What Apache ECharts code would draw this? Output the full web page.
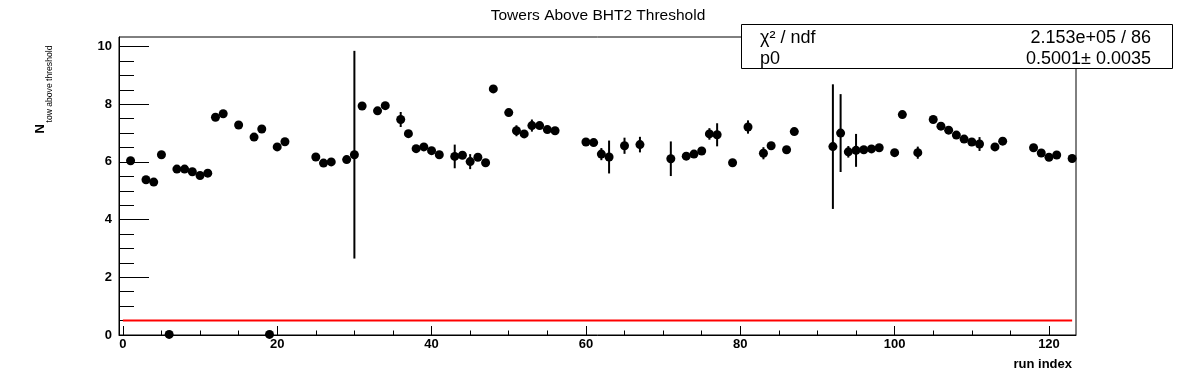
<!DOCTYPE html>
<html><head><meta charset="utf-8">
<script src="https://cdn.jsdelivr.net/npm/echarts@6/dist/echarts.min.js"></script>
<style>html,body{margin:0;padding:0;background:#fff}#c{width:1196px;height:372px}</style>
</head><body><div id="c"></div>
<script>
const runIndex = [1,3,4,5,6,7,8,9,10,11,12,13,15,17,18,19,20,21,25,26,27,29,30,31,33,34,36,37,38,39,40,41,43,44,45,46,47,48,50,51,52,53,54,55,56,60,61,62,63,65,67,71,73,74,75,76,77,79,81,83,84,86,87,92,93,94,95,96,97,98,100,101,103,105,106,107,108,109,110,111,113,114,118,119,120,121,123];
const towers = [6.04,5.38,5.30,6.25,0.02,5.75,5.75,5.66,5.53,5.61,7.55,7.67,7.28,6.86,7.14,0.02,6.52,6.70,6.17,5.96,6.00,6.08,6.25,7.94,7.77,7.95,7.47,6.98,6.46,6.52,6.39,6.25,6.19,6.23,6.01,6.16,5.97,8.53,7.71,7.08,6.97,7.26,7.26,7.12,7.08,6.69,6.67,6.27,6.17,6.56,6.60,6.11,6.20,6.27,6.38,6.97,6.94,5.97,7.21,6.30,6.56,6.42,7.05,6.53,7.00,6.35,6.40,6.42,6.45,6.49,6.32,7.64,6.32,7.47,7.24,7.10,6.93,6.79,6.69,6.62,6.52,6.72,6.49,6.31,6.16,6.24,6.12];
const towerErr = [0.08,0.08,0.08,0.08,0.01,0.08,0.08,0.08,0.08,0.08,0.08,0.08,0.08,0.08,0.08,0.01,0.08,0.08,0.08,0.08,0.08,0.08,3.60,0.08,0.08,0.08,0.26,0.08,0.08,0.08,0.12,0.08,0.41,0.08,0.26,0.08,0.08,0.08,0.08,0.19,0.08,0.21,0.08,0.08,0.08,0.08,0.08,0.21,0.57,0.28,0.27,0.60,0.08,0.08,0.14,0.20,0.40,0.08,0.23,0.21,0.08,0.08,0.08,2.16,1.35,0.20,0.57,0.08,0.08,0.08,0.08,0.08,0.21,0.08,0.08,0.08,0.08,0.08,0.08,0.24,0.08,0.08,0.08,0.08,0.08,0.08,0.08];
const xMajorTicks = [0,20,40,60,80,100,120];
const xMinorTicks = [5,10,15,25,30,35,45,50,55,65,70,75,85,90,95,105,110,115];
const yMajorTicks = [0,2,4,6,8,10];
const yMinorTicks = [0.5,1,1.5,2.5,3,3.5,4.5,5,5.5,6.5,7,7.5,8.5,9,9.5];
const fitValue = 0.5001;
const fitRange = [0,123];
const chartTitle = 'Towers Above BHT2 Threshold';
const statLabels = ['χ² / ndf','p0'];
const statValues = ['2.153e+05 / 86','0.5001± 0.0035'];

const FF = 'Liberation Sans, Arial, Helvetica, sans-serif';
const chart = echarts.init(document.getElementById('c'), null, {renderer:'canvas'});
const xBase = {type:'value', min:-0.5, max:123.5, splitLine:{show:false}};
const yBase = {type:'value', min:0, max:10.33, splitLine:{show:false}};
chart.setOption({
  animation:false,
  backgroundColor:'#fff',
  title:{text:chartTitle, left:'center', top:3, textStyle:{fontFamily:FF, fontSize:15.5, fontWeight:'normal', color:'#000'}},
  grid:{left:119, right:120, top:37, bottom:37, show:true, borderColor:'#000', borderWidth:1, backgroundColor:'transparent'},
  xAxis:[
    Object.assign({}, xBase, {position:'bottom',
      axisLine:{show:true, onZero:false, lineStyle:{color:'#000', width:1}},
      axisTick:{show:true, inside:true, length:9, customValues:xMajorTicks, lineStyle:{color:'#000', width:1}},
      axisLabel:{show:true, customValues:xMajorTicks, margin:3, color:'#000', fontFamily:FF, fontWeight:'bold', fontSize:13}}),
    Object.assign({}, xBase, {position:'bottom', offset:0,
      axisLine:{show:false, onZero:false},
      axisTick:{show:true, inside:true, length:4.5, customValues:xMinorTicks, lineStyle:{color:'#000', width:1}},
      axisLabel:{show:false}})
  ],
  yAxis:[
    Object.assign({}, yBase, {position:'left',
      axisLine:{show:true, onZero:false, lineStyle:{color:'#000', width:1}},
      axisTick:{show:true, inside:true, length:30, customValues:yMajorTicks, lineStyle:{color:'#000', width:1}},
      axisLabel:{show:true, customValues:yMajorTicks, margin:7, color:'#000', fontFamily:FF, fontWeight:'bold', fontSize:13}}),
    Object.assign({}, yBase, {position:'left', offset:0,
      axisLine:{show:false, onZero:false},
      axisTick:{show:true, inside:true, length:15, customValues:yMinorTicks, lineStyle:{color:'#000', width:1}},
      axisLabel:{show:false}})
  ],
  series:[
    {type:'line', xAxisIndex:0, yAxisIndex:0, data:[[fitRange[0],fitValue],[fitRange[1],fitValue]],
      symbol:'none', lineStyle:{color:'#ff0000', width:2}, z:2, silent:true},
    {type:'custom', xAxisIndex:0, yAxisIndex:0, clip:false, silent:true, z:3,
      data: runIndex.map((x,i)=>[x, towers[i]-towerErr[i], towers[i]+towerErr[i]]),
      renderItem:(params, api)=>{
        const p1 = api.coord([api.value(0), api.value(1)]);
        const p2 = api.coord([api.value(0), api.value(2)]);
        return {type:'line', shape:{x1:p1[0], y1:p1[1], x2:p2[0], y2:p2[1]}, style:{stroke:'#000', lineWidth:2}};
      }},
    {type:'scatter', xAxisIndex:0, yAxisIndex:0, clip:false, z:4, silent:true,
      data: runIndex.map((x,i)=>[x, towers[i]]),
      symbol:'circle', symbolSize:9, itemStyle:{color:'#000', opacity:1}}
  ],
  graphic:[
    {type:'rect', z:100, shape:{x:741.5, y:24.5, width:431, height:44}, style:{fill:'#fff', stroke:'#000', lineWidth:1}},
    {type:'text', z:101, x:760, y:38, style:{text:statLabels[0], fontFamily:FF, fontSize:18, fill:'#000', align:'left', verticalAlign:'middle'}},
    {type:'text', z:101, x:760, y:59.5, style:{text:statLabels[1], fontFamily:FF, fontSize:18, fill:'#000', align:'left', verticalAlign:'middle'}},
    {type:'text', z:101, x:1151, y:38, style:{text:statValues[0], fontFamily:FF, fontSize:18, fill:'#000', align:'right', verticalAlign:'middle'}},
    {type:'text', z:101, x:1151, y:59.5, style:{text:statValues[1], fontFamily:FF, fontSize:18, fill:'#000', align:'right', verticalAlign:'middle'}},
    {type:'text', z:101, x:40.5, y:133.5, rotation:Math.PI/2, style:{text:'N', fontFamily:FF, fontSize:13, fontWeight:'bold', fill:'#000', align:'left', verticalAlign:'middle'}},
    {type:'text', z:101, x:49.5, y:122.5, rotation:Math.PI/2, style:{text:'tow above threshold', fontFamily:FF, fontSize:8.6, fill:'#000', align:'left', verticalAlign:'middle'}},
    {type:'text', z:101, x:1072, y:364, style:{text:'run index', fontFamily:FF, fontSize:13, fontWeight:'bold', fill:'#000', align:'right', verticalAlign:'middle'}}
  ]
});
</script></body></html>
